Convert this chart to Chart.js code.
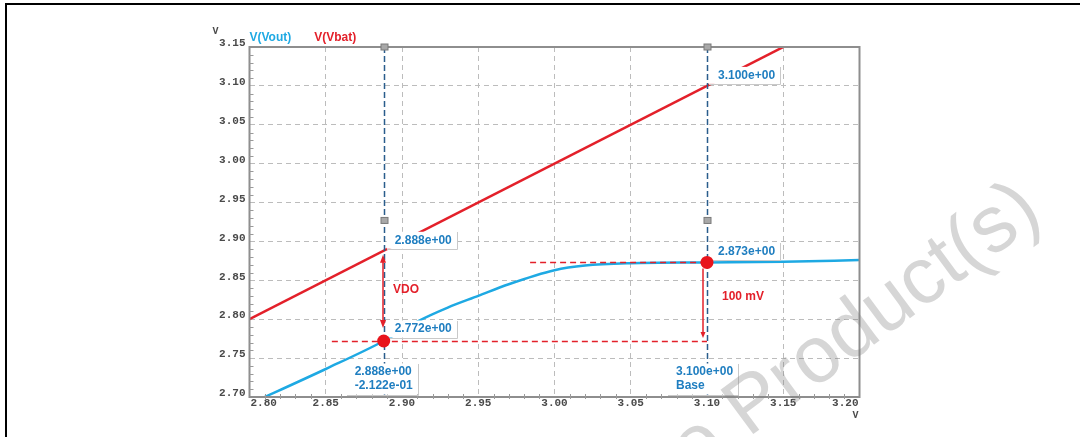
<!DOCTYPE html>
<html>
<head>
<meta charset="utf-8">
<script src="https://cdn.jsdelivr.net/npm/chart.js@4.4.0/dist/chart.umd.min.js"></script>
<style>
  html, body { margin: 0; padding: 0; background: #fff; }
  #wrap { position: relative; width: 1080px; height: 437px; overflow: hidden; }
  #frame { position: absolute; left: 5px; top: 3px; width: 1090px; height: 450px;
           border-top: 2px solid #000; border-left: 2px solid #000; pointer-events: none; }
  canvas { position: absolute; left: 0; top: 0; }
</style>
</head>
<body>
<div id="wrap">
  <canvas id="c" width="1080" height="437"></canvas>
  <div id="frame"></div>
</div>
<script>
// Input supply sweep (V) and regulator output V(Vout)
const sweepV = [2.80, 2.85, 2.888, 2.91, 2.93, 2.95, 2.97, 3.00, 3.02, 3.05, 3.10, 3.15, 3.20];
const voutV  = [2.691, 2.736, 2.772, 2.797, 2.815, 2.830, 2.845, 2.863, 2.869, 2.872, 2.873, 2.874, 2.876];

// V(Vbat) follows the sweep itself
const vbatX = [2.80, 3.20];
const vbatY = [2.80, 3.20];

const seriesNames = ['V(Vout)', 'V(Vbat)'];
const xTicks = [2.80, 2.85, 2.90, 2.95, 3.00, 3.05, 3.10, 3.15, 3.20];
const yTicks = [2.70, 2.75, 2.80, 2.85, 2.90, 2.95, 3.00, 3.05, 3.10, 3.15];
const unitLabel = 'V';

// Cursor readouts
const cursorA = { x: 2.888, vbat: 2.888, vout: 2.772, delta: -0.2122 };
const cursorB = { x: 3.100, vbat: 3.100, vout: 2.873, note: 'Base' };
const cursorHandleV = 2.927;
const vdoText = 'VDO';
const dropText = '100 mV';
// Dashed reference levels: [level, start of the line on the sweep axis]
const refLevels = [2.772, 2.873];
const refStarts = [2.854, 2.984];

const BLUE = '#1ea9e3';
const RED = '#e3202a';
const TAG_BLUE = '#1f7ec0';
const TICK_FONT = 'bold 11px "Liberation Mono", "DejaVu Sans Mono", monospace';
const TAG_FONT = 'bold 12px "Liberation Sans", Arial, sans-serif';

function fmtE(v) {
  const parts = v.toExponential(3).split('e');
  const n = parseInt(parts[1], 10);
  return parts[0] + 'e' + (n < 0 ? '-' : '+') + String(Math.abs(n)).padStart(2, '0');
}

function tag(ctx, lines, left, cy, opts) {
  const lineH = 14;
  ctx.font = TAG_FONT;
  const w = Math.max(...lines.map(s => ctx.measureText(s).width));
  const bx = opts.boxLeft !== undefined ? opts.boxLeft : left - 8;
  const by = cy - 8.5;
  const bw = left + w + 5 - bx;
  const bh = (lines.length - 1) * lineH + 17;
  ctx.fillStyle = '#fff';
  ctx.fillRect(bx, by, bw, bh);
  ctx.strokeStyle = '#c9c9c9';
  ctx.lineWidth = 1;
  ctx.beginPath();
  ctx.moveTo(Math.round(bx), Math.round(by + bh) + 0.5);
  ctx.lineTo(Math.round(bx + bw) + 0.5, Math.round(by + bh) + 0.5);
  ctx.lineTo(Math.round(bx + bw) + 0.5, Math.round(by));
  ctx.stroke();
  ctx.fillStyle = TAG_BLUE;
  ctx.textAlign = 'left';
  ctx.textBaseline = 'middle';
  lines.forEach((s, i) => ctx.fillText(s, left, cy + i * lineH));
}

function arrowHead(ctx, x, tipY, dir, w, len) {
  ctx.beginPath();
  ctx.moveTo(x, tipY);
  ctx.lineTo(x - w / 2, tipY - dir * len);
  ctx.lineTo(x + w / 2, tipY - dir * len);
  ctx.closePath();
  ctx.fill();
}

const overlay = {
  id: 'overlay',
  afterDatasetsDraw(chart) {
    const ctx = chart.ctx;
    const xs = chart.scales.x, ys = chart.scales.y;
    const a = chart.chartArea;
    const X = v => xs.getPixelForValue(v);
    const Y = v => ys.getPixelForValue(v);
    ctx.save();

    // plot frame
    ctx.strokeStyle = '#8e8e8e';
    ctx.lineWidth = 2;
    ctx.strokeRect(a.left, a.top, a.right - a.left, a.bottom - a.top);

    // minor ticks every 0.01 V
    ctx.strokeStyle = '#9a9a9a';
    ctx.lineWidth = 1;
    ctx.beginPath();
    for (let k = 270; k <= 315; k++) {
      if (k % 5 === 0) continue;
      const py = Math.round(Y(k / 100)) + 0.5;
      ctx.moveTo(a.left, py); ctx.lineTo(a.left + 4, py);
    }
    for (let k = 280; k <= 320; k++) {
      if (k % 5 === 0) continue;
      const px = Math.round(X(k / 100)) + 0.5;
      ctx.moveTo(px, a.bottom - 3); ctx.lineTo(px, a.bottom + 2);
    }
    ctx.stroke();

    // tick labels
    ctx.font = TICK_FONT;
    ctx.fillStyle = '#4a4a4a';
    ctx.textBaseline = 'middle';
    xTicks.forEach((v, i) => {
      let px = X(v);
      if (i === 0) { ctx.textAlign = 'left'; px = a.left + 1; }
      else if (i === xTicks.length - 1) { ctx.textAlign = 'right'; px = a.right - 1; }
      else ctx.textAlign = 'center';
      ctx.fillText(v.toFixed(2), px, a.bottom + 6);
    });
    ctx.textAlign = 'right';
    yTicks.forEach(v => ctx.fillText(v.toFixed(2), a.left - 4, Y(v) - 3.5));
    ctx.font = 'bold 10px "Liberation Mono", "DejaVu Sans Mono", monospace';
    ctx.textAlign = 'left';
    ctx.fillText(unitLabel, a.left - 37, a.top - 16);
    ctx.fillText(unitLabel, a.right - 7, a.bottom + 18);

    // legend
    ctx.font = TAG_FONT;
    ctx.textBaseline = 'middle';
    ctx.fillStyle = BLUE;
    ctx.fillText(seriesNames[0], a.left, a.top - 9);
    const w0 = ctx.measureText(seriesNames[0]).width;
    ctx.fillStyle = RED;
    ctx.fillText(seriesNames[1], a.left + w0 + 23, a.top - 9);

    // cursors
    [cursorA, cursorB].forEach(c => {
      const px = Math.round(X(c.x)) + 0.5;
      ctx.strokeStyle = '#2a5d8c';
      ctx.lineWidth = 1.5;
      ctx.setLineDash([6, 3]);
      ctx.beginPath(); ctx.moveTo(px, a.top); ctx.lineTo(px, a.bottom); ctx.stroke();
      ctx.setLineDash([]);
      [a.top, Y(cursorHandleV)].forEach(hy => {
        ctx.fillStyle = '#a8a8a8';
        ctx.fillRect(px - 3.5, hy - 3, 7, 6);
        ctx.strokeStyle = '#7a7a7a';
        ctx.lineWidth = 1;
        ctx.strokeRect(px - 3.5, hy - 3, 7, 6);
      });
    });

    // dashed reference levels
    ctx.strokeStyle = RED;
    ctx.lineWidth = 1.5;
    ctx.setLineDash([6, 4]);
    refLevels.forEach((lv, i) => {
      const py = Math.round(Y(lv)) + 0.5;
      ctx.beginPath(); ctx.moveTo(X(refStarts[i]), py); ctx.lineTo(X(cursorB.x), py); ctx.stroke();
    });
    ctx.setLineDash([]);

    // VDO double arrow
    const ax = Math.round(X(cursorA.x)) - 1;
    const aTop = Y(cursorA.vbat) + 4, aBot = Y(cursorA.vout) - 13;
    ctx.strokeStyle = RED; ctx.fillStyle = RED; ctx.lineWidth = 1.5;
    ctx.beginPath(); ctx.moveTo(ax, aTop + 6); ctx.lineTo(ax, aBot - 6); ctx.stroke();
    arrowHead(ctx, ax, aTop, -1, 6, 8);
    arrowHead(ctx, ax, aBot, 1, 6, 8);
    ctx.font = TAG_FONT; ctx.textAlign = 'left'; ctx.textBaseline = 'middle';
    ctx.fillText(vdoText, ax + 10, (Y(cursorA.vbat) + Y(cursorA.vout)) / 2 - 6);

    // 100 mV arrow
    const bx = Math.round(X(cursorB.x)) - 4;
    const bTop = Y(cursorB.vout) + 6, bBot = Y(cursorA.vout) - 3;
    ctx.beginPath(); ctx.moveTo(bx, bTop); ctx.lineTo(bx, bBot - 4); ctx.stroke();
    arrowHead(ctx, bx, bBot, 1, 5, 6);
    ctx.fillStyle = RED;
    ctx.fillText(dropText, bx + 19, (Y(cursorB.vout) + Y(cursorA.vout)) / 2 - 5);

    // readout tags
    const cxA = X(cursorA.x), cxB = X(cursorB.x);
    tag(ctx, [fmtE(cursorA.vbat)], cxA + 11, Y(cursorA.vbat) - 10.5, { boxLeft: cxA + 3 });
    tag(ctx, [fmtE(cursorA.vout)], cxA + 11, Y(cursorA.vout) - 12, { boxLeft: cxA + 3 });
    tag(ctx, [fmtE(cursorA.x), fmtE(cursorA.delta)], cxA - 29, a.bottom - 25, {});
    tag(ctx, [fmtE(cursorB.vbat)], cxB + 11, Y(cursorB.vbat) - 10.5, { boxLeft: cxB + 2 });
    tag(ctx, [fmtE(cursorB.vout)], cxB + 11, Y(cursorB.vout) - 11, { boxLeft: cxB + 2 });
    tag(ctx, [fmtE(cursorB.x), cursorB.note], cxB - 31, a.bottom - 25, {});

    // operating points
    ctx.fillStyle = '#e8141c';
    [[cursorA.x, cursorA.vout], [cursorB.x, cursorB.vout]].forEach(p => {
      ctx.beginPath(); ctx.arc(X(p[0]), Y(p[1]), 6.5, 0, Math.PI * 2); ctx.fill();
    });
    ctx.restore();
  },
  afterDraw(chart) {
    const ctx = chart.ctx;
    ctx.save();
    ctx.translate(748, 438);
    ctx.rotate(-36.5 * Math.PI / 180);
    ctx.font = '80px "Liberation Sans", Arial, sans-serif';
    ctx.fillStyle = 'rgba(128,128,128,0.32)';
    ctx.textBaseline = 'alphabetic';
    ctx.textAlign = 'left';
    ctx.fillText('Product(s)', 0, 0);
    ctx.textAlign = 'right';
    ctx.fillText('Obsolete ', 0, 0);
    ctx.restore();
  }
};

const gridOpts = { color: '#bcbcbc', lineWidth: 1, drawTicks: false };
const borderOpts = { display: false, dash: [5, 4] };

new Chart(document.getElementById('c'), {
  type: 'line',
  data: {
    datasets: [
      {
        label: seriesNames[0],
        data: sweepV.map((x, i) => ({ x: x, y: voutV[i] })),
        borderColor: BLUE,
        borderWidth: 2.5,
        pointRadius: 0,
        cubicInterpolationMode: 'monotone',
        fill: false
      },
      {
        label: seriesNames[1],
        data: vbatX.map((x, i) => ({ x: x, y: vbatY[i] })),
        borderColor: RED,
        borderWidth: 2.5,
        pointRadius: 0,
        fill: false
      }
    ]
  },
  options: {
    responsive: false,
    animation: false,
    devicePixelRatio: 1,
    layout: { padding: { left: 209.5, right: 220.5, top: 47, bottom: 0 } },
    plugins: { legend: { display: false }, tooltip: { enabled: false } },
    scales: {
      x: {
        type: 'linear',
        min: xTicks[0], max: xTicks[xTicks.length - 1],
        ticks: { stepSize: 0.05, display: false },
        grid: gridOpts,
        border: borderOpts,
        afterFit: s => { s.height = 40; }
      },
      y: {
        type: 'linear',
        min: yTicks[0], max: yTicks[yTicks.length - 1],
        ticks: { stepSize: 0.05, display: false },
        grid: gridOpts,
        border: borderOpts,
        afterFit: s => { s.width = 40; }
      }
    }
  },
  plugins: [overlay]
});
</script>
</body>
</html>
